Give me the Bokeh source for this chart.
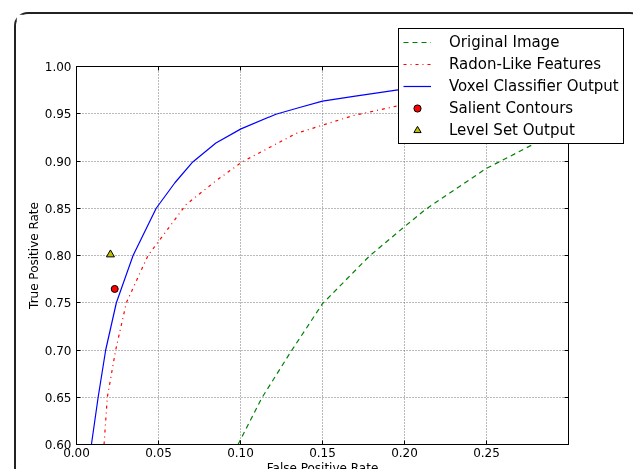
from bokeh.plotting import figure
from bokeh.models import Legend, LegendItem, LinearAxis, FixedTicker, NumeralTickFormatter, Range1d
from bokeh.embed import file_html
from bokeh.resources import INLINE

# ---- data ----
fpr_orig = [0.0985, 0.1129, 0.131, 0.150, 0.1787, 0.1996, 0.213, 0.2497, 0.2588, 0.280, 0.300]
tpr_orig = [0.600, 0.649, 0.699, 0.749, 0.7995, 0.830, 0.849, 0.892, 0.900, 0.919, 0.935]

fpr_radon = [0.0168, 0.0188, 0.0239, 0.0304, 0.0436, 0.0669, 0.085, 0.101, 0.1337, 0.152, 0.1686, 0.195, 0.22, 0.25, 0.30]
tpr_radon = [0.600, 0.650, 0.700, 0.750, 0.800, 0.854, 0.879, 0.899, 0.929, 0.939, 0.948, 0.958, 0.965, 0.972, 0.980]

fpr_voxel = [0.0091, 0.0132, 0.0178, 0.0243, 0.0345, 0.0486, 0.060, 0.0709, 0.085, 0.1003, 0.1216, 0.136, 0.150, 0.170, 0.195, 0.22, 0.25, 0.30]
tpr_voxel = [0.600, 0.650, 0.700, 0.750, 0.800, 0.850, 0.877, 0.899, 0.919, 0.934, 0.9495, 0.9566, 0.9634, 0.9687, 0.975, 0.980, 0.985, 0.990]

salient_fpr = [0.0233]
salient_tpr = [0.7646]
levelset_fpr = [0.0207]
levelset_tpr = [0.801]

labels = ["Original Image", "Radon-Like Features", "Voxel Classifier Output",
          "Salient Contours", "Level Set Output"]

x_ticks = [0.0, 0.05, 0.10, 0.15, 0.20, 0.25]
y_ticks = [0.60, 0.65, 0.70, 0.75, 0.80, 0.85, 0.90, 0.95, 1.00]

FONT = "DejaVu Sans"


def draw_series(fig):
    r1 = fig.line(fpr_orig, tpr_orig, line_color="#008000", line_width=1.2, line_dash="5 4")
    r2 = fig.line(fpr_radon, tpr_radon, line_color="#ff0000", line_width=1.2, line_dash="3 4 1 4")
    r3 = fig.line(fpr_voxel, tpr_voxel, line_color="#0000ff", line_width=1.2)
    r4 = fig.scatter(salient_fpr, salient_tpr, marker="circle", size=7,
                     fill_color="#ff0000", line_color="black", line_width=1)
    r5 = fig.scatter(levelset_fpr, levelset_tpr, marker="triangle", size=8,
                     fill_color="#bfbf00", line_color="black", line_width=1)
    return [r1, r2, r3, r4, r5]


# ---- main plot (pinned at page (14, 12); its rounded border runs off the window) ----
p = figure(width=630, height=470,
           x_range=Range1d(0, 0.3), y_range=Range1d(0.6, 1.0),
           output_backend="svg", toolbar_location=None,
           min_border_left=60, min_border_top=52,
           min_border_right=78, min_border_bottom=40)
p.styles = {"position": "fixed", "left": "14px", "top": "12px",
            "border": "2px solid #222", "border-radius": "14px"}
p.outline_line_color = "black"
p.outline_line_width = 1
p.outline_line_alpha = 1

for ax, ticks in ((p.xaxis[0], x_ticks), (p.yaxis[0], y_ticks)):
    ax.ticker = FixedTicker(ticks=ticks)
    ax.formatter = NumeralTickFormatter(format="0.00")
    ax.major_label_text_font = FONT
    ax.major_label_text_font_size = "12px"
    ax.major_label_text_color = "black"
    ax.major_tick_in = 4
    ax.major_tick_out = 0
    ax.minor_tick_line_color = None
    ax.axis_label_text_font = FONT
    ax.axis_label_text_font_size = "12px"
    ax.axis_label_text_font_style = "normal"
    ax.axis_label_text_color = "black"
    ax.axis_line_color = "black"

p.xaxis.axis_label = "False Positive Rate"
p.yaxis.axis_label = "True Positive Rate"
p.xaxis.major_label_standoff = 3
p.xaxis.axis_label_standoff = 1
p.yaxis.major_label_standoff = 5
p.yaxis.axis_label_standoff = 1

top = LinearAxis(ticker=FixedTicker(ticks=x_ticks), major_label_text_color=None,
                 major_tick_in=4, major_tick_out=0, minor_tick_line_color=None,
                 axis_line_color="black")
right = LinearAxis(ticker=FixedTicker(ticks=y_ticks), major_label_text_color=None,
                   major_tick_in=4, major_tick_out=0, minor_tick_line_color=None,
                   axis_line_color="black")
p.add_layout(top, "above")
p.add_layout(right, "right")

p.xgrid.ticker = FixedTicker(ticks=x_ticks)
p.ygrid.ticker = FixedTicker(ticks=y_ticks)
for g in (p.xgrid[0], p.ygrid[0]):
    g.grid_line_color = "#666666"
    g.grid_line_dash = "1 2"
    g.grid_line_width = 1
    g.grid_line_alpha = 0.9

draw_series(p)

# ---- legend (own small figure pinned over the plot, so the box can cross the frame) ----
lg = figure(width=234, height=132, x_range=Range1d(10, 11), y_range=Range1d(10, 11),
            output_backend="svg", toolbar_location=None, title=None,
            x_axis_location=None, y_axis_location=None,
            min_border=0, min_border_left=0, min_border_right=0,
            min_border_top=0, min_border_bottom=0)
lg.grid.visible = False
lg.outline_line_color = None
lg.background_fill_alpha = 0
lg.border_fill_alpha = 0
lg_renderers = draw_series(lg)

legend = Legend(items=[LegendItem(label=lab, renderers=[r]) for lab, r in zip(labels, lg_renderers)],
                location="top_left")
legend.border_line_color = "black"
legend.border_line_width = 1
legend.border_line_alpha = 1
legend.background_fill_color = "white"
legend.background_fill_alpha = 1
legend.label_text_font = FONT
legend.label_text_font_size = "15px"
legend.label_text_color = "black"
legend.glyph_width = 28
legend.glyph_height = 18
legend.label_height = 18
legend.spacing = 4
legend.padding = 4
legend.margin = 1
legend.label_standoff = 18
lg.add_layout(legend, "center")

lg.styles = {"position": "fixed", "left": "397px", "top": "27px", "z-index": "5"}

# two separate roots, so that Bokeh does not align the legend figure's frame to the plot's
open("out.html", "w").write(file_html([p, lg], INLINE))
